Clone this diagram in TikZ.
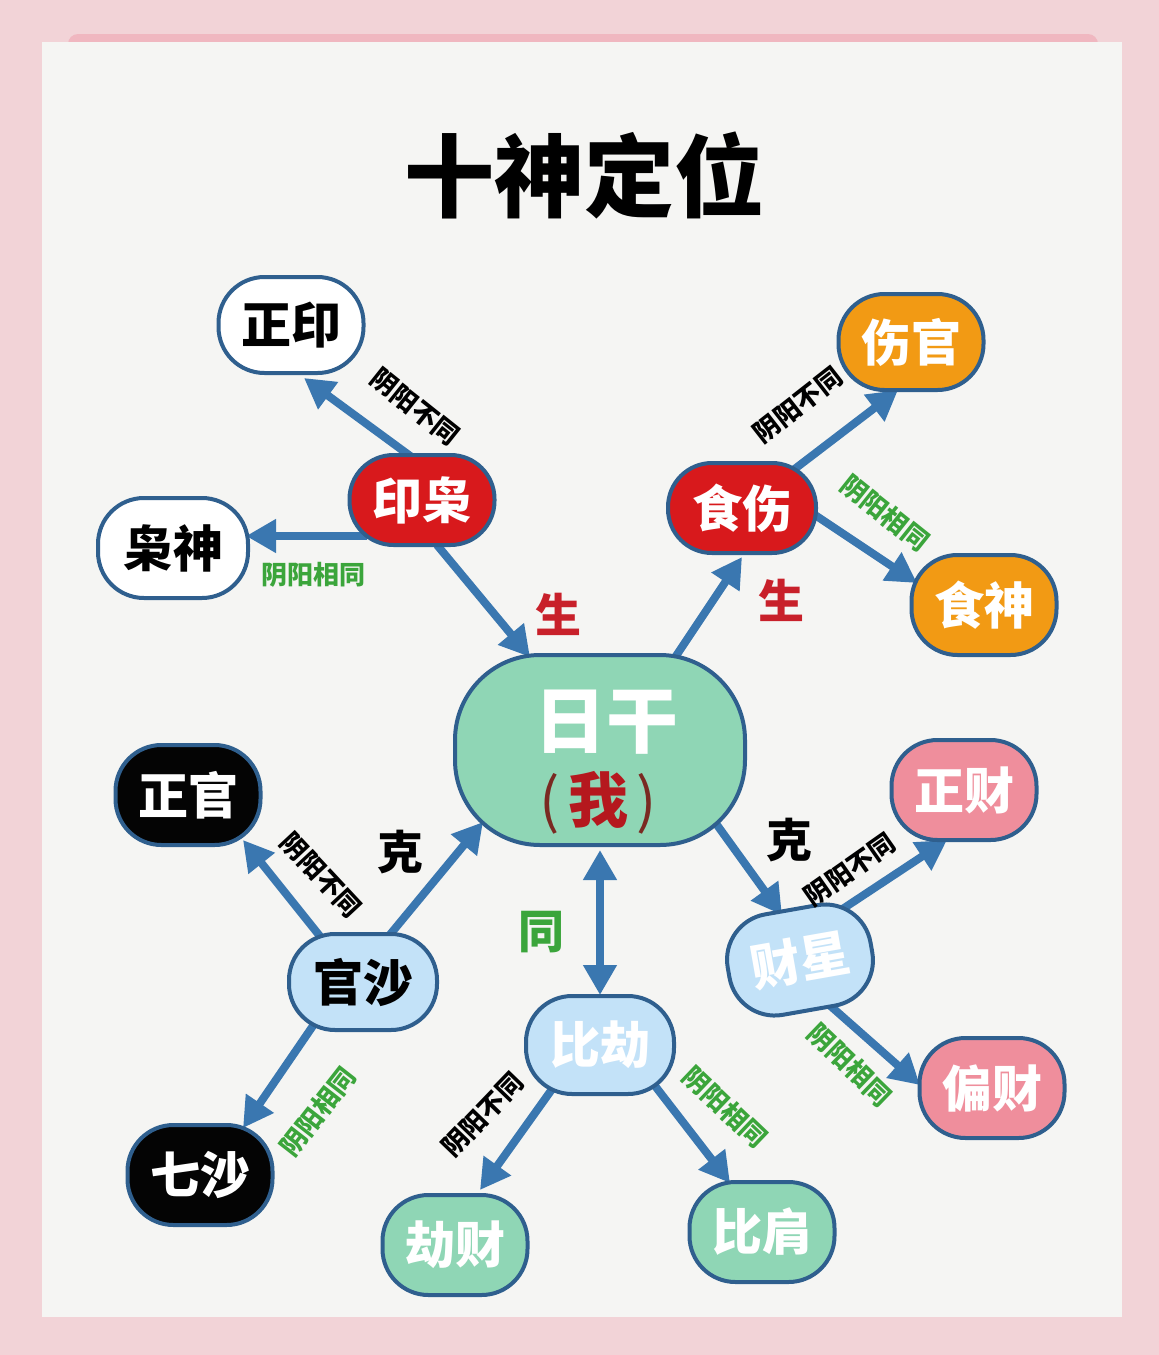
\documentclass[tikz,border=0pt]{standalone}
\usepackage{fontspec}
\newfontfamily\cjk{Noto Sans CJK SC}
\usetikzlibrary{arrows.meta,calc}
\definecolor{bgpink}{HTML}{F2D3D7}
\definecolor{strip}{HTML}{F0B7C0}
\definecolor{paper}{HTML}{F5F5F3}
\definecolor{bordc}{HTML}{2F5F8E}
\definecolor{arrc}{HTML}{3A77B0}
\definecolor{redc}{HTML}{D8191C}
\definecolor{orangec}{HTML}{F29A14}
\definecolor{mintc}{HTML}{8FD6B5}
\definecolor{lbluec}{HTML}{C3E2F8}
\definecolor{pinkc}{HTML}{EF8E9C}
\definecolor{blackc}{HTML}{040404}
\definecolor{lgreen}{HTML}{3BA53B}
\definecolor{shengc}{HTML}{C8202A}
\definecolor{woc}{HTML}{B5181E}
\definecolor{parc}{HTML}{7A2A22}
\pgfdeclarelayer{bg}
\pgfdeclarelayer{arrl}
\pgfsetlayers{bg,arrl,main}
\tikzset{
  nd/.style={draw=bordc, line width=4pt, rounded corners=46pt,
    minimum width=145pt, minimum height=96pt, inner sep=0pt,
    font=\cjk\bfseries\fontsize{50}{50}\selectfont},
  arr/.style={draw=arrc, line width=8pt, -{Triangle[length=30pt,width=32pt]}},
  lab/.style={inner sep=0pt, font=\cjk\bfseries\fontsize{26}{26}\selectfont},
  big/.style={inner sep=0pt, font=\cjk\bfseries\fontsize{46}{46}\selectfont},
}
\begin{document}
\begin{tikzpicture}[x=1pt,y=-1pt]
\begin{pgfonlayer}{bg}
\fill[bgpink] (0,0) rectangle (1159,1355);
\fill[strip, rounded corners=10pt] (68,34) rectangle (1098,60);
\fill[paper] (42,42) rectangle (1122,1317);
\end{pgfonlayer}
\useasboundingbox (0,0) rectangle (1159,1355);

\node[font=\cjk\bfseries\fontsize{90}{90}\selectfont, inner sep=0pt] (title) at (584,175) {十神定位};

% nodes
\node[nd, fill=white, text=black] (zy) at (291,325) {正印};
\node[nd, fill=redc, text=white, minimum height=90pt, rounded corners=44pt] (yx) at (422,500) {印枭};
\node[nd, fill=white, text=black, minimum width=150pt, minimum height=100pt] (xs) at (173,548) {枭神};
\node[nd, fill=orangec, text=white] (sg) at (911,342) {伤官};
\node[nd, fill=redc, text=white, minimum width=148pt, minimum height=90pt, rounded corners=44pt] (ss) at (742,508) {食伤};
\node[nd, fill=orangec, text=white, minimum height=100pt] (sz) at (984,605) {食神};
\node[nd, fill=mintc, minimum width=290pt, minimum height=190pt, rounded corners=85pt] (rg) at (600,750) {};
\node[inner sep=0pt, text=white, font=\cjk\bfseries\fontsize{72}{72}\selectfont] (rgt) at (606,722) {日干};
\node[inner sep=0pt, font=\cjk\fontsize{60}{60}\selectfont] (rgw) at (598,803) {\textcolor{parc}{(}\hspace{8pt}\textcolor{woc}{\bfseries 我}\hspace{8pt}\textcolor{parc}{)}};
\node[nd, fill=blackc, text=white, minimum height=100pt] (zg) at (188,795) {正官};
\node[nd, fill=lbluec, text=black, minimum width=148pt] (gs) at (363,982) {官沙};
\node[nd, fill=blackc, text=white, minimum height=100pt] (qs) at (200,1175) {七沙};
\node[nd, fill=pinkc, text=white, minimum height=100pt] (zc) at (964,790) {正财};
\node[nd, fill=lbluec, text=white, minimum height=102pt, rotate=10] (cx) at (800,960) {财星};
\node[nd, fill=pinkc, text=white, minimum height=100pt] (pc) at (992,1088) {偏财};
\node[nd, fill=lbluec, text=white, minimum width=148pt, minimum height=98pt] (bj) at (600,1045) {比劫};
\node[nd, fill=mintc, text=white, minimum height=100pt] (jc) at (455,1245) {劫财};
\node[nd, fill=mintc, text=white, minimum height=100pt] (bjian) at (762,1232) {比肩};

% connectors
\begin{pgfonlayer}{arrl}
\draw[arr] ($(yx)+(-9,-42)$) -- ($(zy)+(13,53)$);
\draw[arr] ($(yx)+(-55,36)$) -- ($(xs)+(73,-12)$);
\draw[arr] ($(yx)+(15,45)$) -- ($(rg)+(-70,-93)$);
\draw[arr] ($(rg)+(70,-85)$) -- ($(ss)+(0,49)$);
\draw[arr] ($(ss)+(50,-37)$) -- ($(sg)+(-13,48)$);
\draw[arr] ($(ss)+(70,5)$) -- ($(sz)+(-67,-22)$);
\draw[arr] ($(gs)+(25,-45)$) -- ($(rg)+(-117,72)$);
\draw[arr] ($(gs)+(-40,-42)$) -- ($(zg)+(55,45)$);
\draw[arr] ($(gs)+(-44,35)$) -- ($(qs)+(43,-47)$);
\draw[arr, {Triangle[length=30pt,width=32pt]}-{Triangle[length=30pt,width=32pt]}] ($(rg)+(0,100)$) -- ($(bj)+(0,-50)$);
\draw[arr] ($(rg)+(112,68)$) -- ($(cx)+(-18,-45)$);
\draw[arr] ($(cx)+(38,-48)$) -- ($(zc)+(-17,50)$);
\draw[arr] ($(cx)+(26,42)$) -- ($(pc)+(-72,-3)$);
\draw[arr] ($(bj)+(-45,40)$) -- ($(jc)+(25,-55)$);
\draw[arr] ($(bj)+(52,37)$) -- ($(bjian)+(-32,-49)$);
\end{pgfonlayer}

% labels
\node[lab, text=black, rotate=-38.6] (l1) at (415,407) {阴阳不同};
\node[lab, text=lgreen] (l2) at (313,575) {阴阳相同};
\node[lab, text=black, rotate=38] (l3) at (798,405) {阴阳不同};
\node[lab, text=lgreen, rotate=-38.6] (l4) at (885,513) {阴阳相同};
\node[lab, text=black, rotate=-47] (l5) at (321,875) {阴阳不同};
\node[lab, text=lgreen, rotate=52] (l6) at (318,1112) {阴阳相同};
\node[lab, text=black, rotate=35] (l7) at (850,870) {阴阳不同};
\node[lab, text=lgreen, rotate=-44] (l8) at (850,1065) {阴阳相同};
\node[lab, text=black, rotate=46] (l9) at (483,1115) {阴阳不同};
\node[lab, text=lgreen, rotate=-43.6] (l10) at (725,1107) {阴阳相同};

\node[big, text=shengc] (s1) at (558,614) {生};
\node[big, text=shengc] (s2) at (781,600) {生};
\node[big, text=black] (k1) at (400,852) {克};
\node[big, text=black] (k2) at (789,840) {克};
\node[big, text=lgreen] (t1) at (541,932) {同};
\end{tikzpicture}
\end{document}
